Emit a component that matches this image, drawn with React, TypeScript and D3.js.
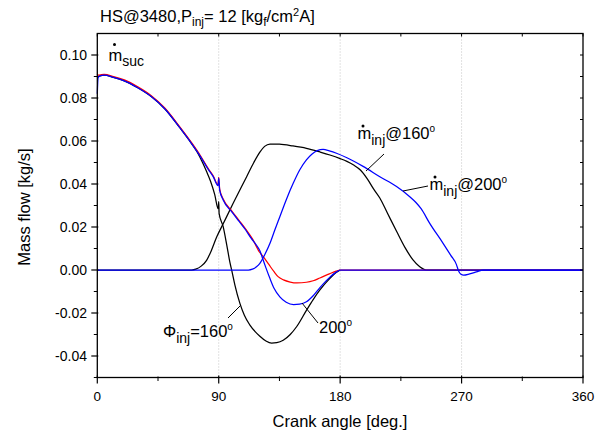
import React from "react";
import * as d3 from "d3";

// ---------- data ----------
const redAngle = [0, 0.5, 2, 5, 12, 20, 30, 40, 50, 61, 70, 76, 82, 86, 89.5, 90, 90.7, 93.3, 100, 105, 110, 115, 120, 123, 127, 131, 134, 138, 143, 148, 155, 160, 165, 172, 177, 180, 360];
const redFlow = [0.0912, 0.0906, 0.0907, 0.091, 0.09, 0.0884, 0.0852, 0.0811, 0.0754, 0.0667, 0.0591, 0.0536, 0.0474, 0.0437, 0.0396, 0.0431, 0.0376, 0.033, 0.0272, 0.0231, 0.019, 0.0145, 0.0085, 0.0062, 0.0027, -0.0008, -0.0031, -0.0046, -0.0056, -0.006, -0.0057, -0.005, -0.0037, -0.0018, -0.0005, 0, 0];

const sucBlueAngle = [0, 0.6, 2, 5, 12, 20, 30, 40, 50, 61, 70, 76, 82, 86, 89.5, 90, 90.7, 93.3, 100, 105, 110, 114, 118, 120.5, 123, 125, 128, 131, 135.3, 140, 145.5, 150, 155, 160, 165, 172.4, 177, 180, 360];
const sucBlueFlow = [0.082, 0.0895, 0.0903, 0.0906, 0.0896, 0.088, 0.0848, 0.0807, 0.075, 0.0663, 0.0587, 0.0532, 0.047, 0.0433, 0.0392, 0.0427, 0.0372, 0.0326, 0.0268, 0.0227, 0.0186, 0.0148, 0.0115, 0.009, 0.0045, 0.001, -0.004, -0.0085, -0.0125, -0.015, -0.0161, -0.0159, -0.0148, -0.012, -0.0082, -0.0033, -0.001, 0, 0];

const sucBlackAngle = [0, 0.5, 2, 5, 12, 20, 30, 40, 50, 61, 70, 74, 78, 81, 84, 87, 89.6, 90, 90.3, 93.3, 96, 98.3, 100, 102, 105.7, 109, 113, 120.5, 125, 129.2, 133, 137.8, 143, 147.7, 155, 160, 165, 172.4, 177, 180];
const sucBlackFlow = [0.09, 0.0898, 0.0903, 0.0906, 0.0896, 0.088, 0.0848, 0.0807, 0.075, 0.0663, 0.0587, 0.0549, 0.05, 0.0458, 0.0412, 0.0352, 0.0285, 0.0318, 0.0262, 0.0202, 0.0115, 0.0035, -0.0012, -0.007, -0.0155, -0.021, -0.0255, -0.0308, -0.033, -0.034, -0.0338, -0.0327, -0.03, -0.0264, -0.0188, -0.0138, -0.0093, -0.0039, -0.0012, 0];

const inj160Angle = [0, 70, 73, 77, 81, 84.5, 88.4, 93.3, 100.7, 110.7, 116, 120.5, 124, 128, 135, 145, 155, 165, 172.4, 180, 185, 190, 195, 200, 205, 209.4, 215, 221.8, 228, 234, 239, 244, 360];
const inj160Flow = [0, 0, 0.0004, 0.0018, 0.0045, 0.009, 0.0152, 0.0215, 0.031, 0.0434, 0.05, 0.0548, 0.0575, 0.0586, 0.0585, 0.0577, 0.0566, 0.0549, 0.0535, 0.0518, 0.0505, 0.0488, 0.0465, 0.0425, 0.0375, 0.0335, 0.0265, 0.018, 0.0105, 0.0047, 0.0015, 0, 0];

const inj200Angle = [0, 112, 115, 118, 120.5, 124, 128, 131.5, 135.3, 140, 145.2, 150, 155, 159, 163, 167.4, 172, 177.3, 185, 197, 209.4, 221.8, 231.6, 236, 240, 246.4, 256.3, 262, 266.2, 267.8, 269.5, 271.5, 276, 281, 286, 360];
const inj200Flow = [0, 0, 0.0004, 0.0015, 0.0031, 0.007, 0.0124, 0.0185, 0.0248, 0.0326, 0.0403, 0.0465, 0.0512, 0.0538, 0.0555, 0.0561, 0.0554, 0.0543, 0.0522, 0.0482, 0.0434, 0.0388, 0.0341, 0.0315, 0.0285, 0.0217, 0.0124, 0.0068, 0.0025, -0.0005, -0.002, -0.0024, -0.0018, -0.0009, 0, 0];

const xMajorTicks = [0, 90, 180, 270, 360];
const xMinorTicks = [45, 135, 225, 315];
const xGridLines = [90, 180, 270];
const yMajorTicks = [-0.04, -0.02, 0.0, 0.02, 0.04, 0.06, 0.08, 0.1];
const yMinorTicks = [-0.05, -0.03, -0.01, 0.01, 0.03, 0.05, 0.07, 0.09];

const FONT = "'Liberation Sans', Arial, Helvetica, sans-serif";

function Dot({ cx, cy }: { cx: number; cy: number }) {
  return <circle cx={cx} cy={cy} r={1.5} fill="#000" />;
}

export default function App() {
  const W = 602;
  const H = 436;
  const x = d3.scaleLinear().domain([0, 360]).range([97.3, 583]);
  const y = d3.scaleLinear().domain([-0.05, 0.11]).range([377.5, 33.5]);

  const mkPath = (ax: number[], vals: number[]) =>
    d3
      .line<number>()
      .x((_, i) => x(ax[i]))
      .y((d) => y(d))
      .curve(d3.curveMonotoneX)(vals) || "";

  const fmt = (v: number) => d3.format(".2f")(v).replace("\u2212", "-");

  const left = x(0), right = x(360), top = y(0.11), bottom = y(-0.05);

  return (
    <svg
      width={W}
      height={H}
      style={{ position: "absolute", left: 0, top: 0, background: "#fff" }}
      fontFamily={FONT}
    >
      <rect x={0} y={0} width={W} height={H} fill="#fff" />
      {/* grid */}
      {xGridLines.map((g) => (
        <line key={"g" + g} x1={x(g)} x2={x(g)} y1={top} y2={bottom} stroke="#c4c4c4" strokeWidth={1} strokeDasharray="1,2" />
      ))}

      {/* curves */}
      <g fill="none" strokeWidth={1.25} strokeLinejoin="round">
        <path d={mkPath(sucBlackAngle, sucBlackFlow)} stroke="#000" />
        <path d={mkPath(inj160Angle, inj160Flow)} stroke="#000" />
        <path d={mkPath(redAngle, redFlow)} stroke="#ff0000" />
        <path d={mkPath(sucBlueAngle, sucBlueFlow)} stroke="#0000ff" />
        <path d={mkPath(inj200Angle, inj200Flow)} stroke="#0000ff" />
      </g>

      {/* frame */}
      <rect x={left} y={top} width={right - left} height={bottom - top} fill="none" stroke="#000" strokeWidth={1.3} />

      {/* bottom axis ticks */}
      {xMajorTicks.map((t) => (
        <g key={"xb" + t}>
          <line x1={x(t)} x2={x(t)} y1={bottom - 2} y2={bottom + 6} stroke="#000" strokeWidth={1.2} />
          <line x1={x(t)} x2={x(t)} y1={top} y2={top + 3} stroke="#000" strokeWidth={1} />
          <text x={x(t)} y={400.5} fontSize={13.5} textAnchor="middle">{t}</text>
        </g>
      ))}
      {xMinorTicks.map((t) => (
        <g key={"xm" + t}>
          <line x1={x(t)} x2={x(t)} y1={bottom - 1} y2={bottom + 3.5} stroke="#000" strokeWidth={1} />
          <line x1={x(t)} x2={x(t)} y1={top} y2={top + 3} stroke="#000" strokeWidth={1} />
        </g>
      ))}

      {/* left / right axis ticks */}
      {yMajorTicks.map((t) => (
        <g key={"yl" + t}>
          <line x1={left - 6} x2={left + 1} y1={y(t)} y2={y(t)} stroke="#000" strokeWidth={1.2} />
          <line x1={right - 3} x2={right} y1={y(t)} y2={y(t)} stroke="#000" strokeWidth={1} />
          <text x={87} y={y(t)} dy="0.36em" fontSize={14} textAnchor="end">{fmt(t)}</text>
        </g>
      ))}
      {yMinorTicks.map((t) => (
        <g key={"ym" + t}>
          <line x1={left - 3.5} x2={left} y1={y(t)} y2={y(t)} stroke="#000" strokeWidth={1} />
          <line x1={right - 3} x2={right} y1={y(t)} y2={y(t)} stroke="#000" strokeWidth={1} />
        </g>
      ))}

      {/* axis titles */}
      <text x={340} y={427} fontSize={16.5} textAnchor="middle">Crank angle [deg.]</text>
      <text transform="translate(30,207) rotate(-90)" fontSize={16.5} textAnchor="middle">Mass flow [kg/s]</text>

      {/* chart title */}
      <text x={100} y={22} fontSize={16.5}>
        HS@3480,P<tspan fontSize={12} dy={4}>inj</tspan>
        <tspan dy={-4}>= 12 [kg</tspan>
        <tspan fontSize={12} dy={4}>f</tspan>
        <tspan dy={-4}>/cm</tspan>
        <tspan fontSize={11} dy={-6}>2</tspan>
        <tspan dy={6}>A]</tspan>
      </text>

      {/* annotations */}
      <Dot cx={114.5} cy={44.5} />
      <text x={108.5} y={61} fontSize={16.5}>
        m<tspan fontSize={14} dy={5}>suc</tspan>
      </text>

      <Dot cx={363} cy={126} />
      <text x={357.5} y={139} fontSize={16.5}>
        m<tspan fontSize={14} dy={6}>inj</tspan>
        <tspan dy={-6}>@160</tspan>
        <tspan fontSize={10} dy={-7}>o</tspan>
      </text>
      <line x1={366} y1={171} x2={384} y2={154} stroke="#000" strokeWidth={1} />

      <Dot cx={435} cy={177} />
      <text x={429.5} y={190} fontSize={16.5}>
        m<tspan fontSize={14} dy={6}>inj</tspan>
        <tspan dy={-6}>@200</tspan>
        <tspan fontSize={10} dy={-7}>o</tspan>
      </text>
      <line x1={403} y1={191} x2={428} y2={186} stroke="#000" strokeWidth={1} />

      <text x={163} y={337} fontSize={16.5}>
        Φ<tspan fontSize={14} dy={6}>inj</tspan>
        <tspan dy={-6}>=160</tspan>
        <tspan fontSize={10} dy={-7}>o</tspan>
      </text>
      <line x1={228} y1={318} x2={241} y2={305} stroke="#000" strokeWidth={1} />

      <text x={319} y={333} fontSize={16.5}>
        200<tspan fontSize={10} dy={-7}>o</tspan>
      </text>
      <line x1={318} y1={323} x2={302} y2={303} stroke="#000" strokeWidth={1} />
    </svg>
  );
}
